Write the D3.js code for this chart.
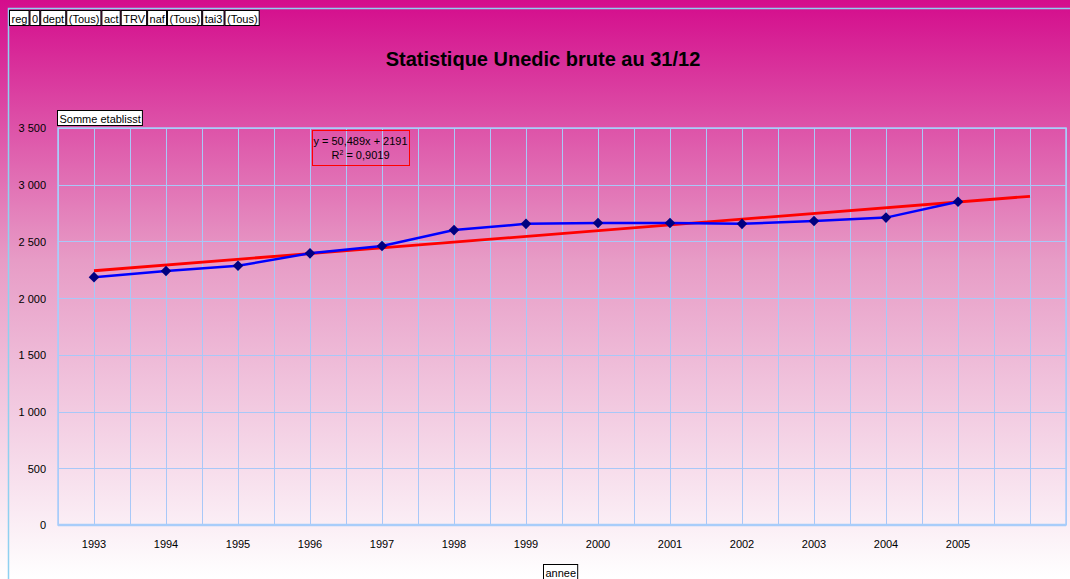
<!DOCTYPE html>
<meta charset="utf-8">
<html>
<head>
<style>
body { margin: 0; }
text { font-family: "Liberation Sans", Arial, sans-serif; }
.grid line { stroke: #a8c8f8; stroke-width: 1; shape-rendering: crispEdges; }
.axis text { font-size: 11px; fill: #000; }
.axis path, .axis line { display: none; }
</style>
<script src="https://d3js.org/d3.v7.min.js"></script>
</head>
<body>
<svg width="1070" height="579"></svg>
<script>
// data
var years = ["1993","1994","1995","1996","1997","1998","1999","2000","2001","2002","2003","2004","2005",""];
var etablissements = [2185, 2240, 2285, 2395, 2460, 2600, 2655, 2662, 2662, 2655, 2680, 2710, 2850];
var yTicks = [0, 500, 1000, 1500, 2000, 2500, 3000, 3500];
var trendSlope = 50.489, trendIntercept = 2191, trendR2 = "0,9019";
var fieldButtons = ["reg","0","dept","(Tous)","act","TRV","naf","(Tous)","tai3","(Tous)"];

var svg = d3.select("svg"),
    width = +svg.attr("width"),
    height = +svg.attr("height");

var defs = svg.append("defs");
var grad = defs.append("linearGradient")
    .attr("id", "bg").attr("x1", 0).attr("y1", 0).attr("x2", 0).attr("y2", 1);
grad.append("stop").attr("offset", "0%").attr("stop-color", "#d40c8c");
grad.append("stop").attr("offset", "45%").attr("stop-color", "#e79cc6");
grad.append("stop").attr("offset", "100%").attr("stop-color", "#ffffff");

svg.append("rect").attr("width", width).attr("height", height).attr("fill", "url(#bg)");
// outer chart border
svg.append("path")
    .attr("d", "M8.5," + height + "V8.5H" + width)
    .attr("fill", "none").attr("stroke", "#8fd0f0").attr("stroke-width", 1.5);

var margin = {left: 58, right: 4, top: 128, bottom: 54};
var x = d3.scaleBand().domain(d3.range(years.length)).range([margin.left, width - margin.right]);
var y = d3.scaleLinear().domain([0, 3500]).range([height - margin.bottom, margin.top]);
var cx = function(i) { return x(i) + x.bandwidth() / 2; };

// grid
var grid = svg.append("g").attr("class", "grid");
var vlines = [];
years.forEach(function(d, i) { vlines.push(x(i)); vlines.push(cx(i)); });
vlines.push(x.range()[1]);
grid.selectAll(".v").data(vlines).enter().append("line")
    .attr("x1", function(d) { return Math.round(d) + 0.5; })
    .attr("x2", function(d) { return Math.round(d) + 0.5; })
    .attr("y1", y(3500)).attr("y2", y(0));
grid.selectAll(".h").data(yTicks).enter().append("line")
    .attr("x1", x.range()[0]).attr("x2", x.range()[1])
    .attr("y1", function(d) { return Math.round(y(d)) + 0.5; })
    .attr("y2", function(d) { return Math.round(y(d)) + 0.5; });

svg.append("rect")
    .attr("x", x.range()[0]).attr("y", y(3500))
    .attr("width", x.range()[1] - x.range()[0]).attr("height", y(0) - y(3500))
    .attr("fill", "none").attr("stroke", "#a8cdfa").attr("stroke-width", 1.5);
svg.append("line")
    .attr("x1", x.range()[0]).attr("x2", x.range()[1])
    .attr("y1", y(0)).attr("y2", y(0))
    .attr("stroke", "#a8cdfa").attr("stroke-width", 2.5);

// axes
var fmt = function(d) { return d3.format(",")(d).replace(/,/g, " "); };
svg.append("g").attr("class", "axis")
    .attr("transform", "translate(" + (margin.left - 9) + ",0)")
    .call(d3.axisLeft(y).tickValues(yTicks).tickFormat(fmt).tickSize(0))
    .selectAll("text").attr("dy", "0.35em");
svg.append("g").attr("class", "axis")
    .attr("transform", "translate(0," + (y(0) + 12) + ")")
    .call(d3.axisBottom(x).tickFormat(function(i) { return years[i]; }).tickSize(0))
    .selectAll("text").attr("dy", "0.71em");

// trend line
var trend = [0, years.length - 1].map(function(i) { return [cx(i), y(trendSlope * (i + 1) + trendIntercept)]; });
svg.append("path").attr("d", d3.line()(trend))
    .attr("fill", "none").attr("stroke", "#ff0000").attr("stroke-width", 2.8);

// series
var line = d3.line().x(function(d, i) { return cx(i); }).y(function(d) { return y(d); });
svg.append("path").datum(etablissements).attr("d", line)
    .attr("fill", "none").attr("stroke", "#0000ff").attr("stroke-width", 2.5);
svg.selectAll(".pt").data(etablissements).enter().append("path")
    .attr("transform", function(d, i) { return "translate(" + cx(i) + "," + y(d) + ") rotate(45)"; })
    .attr("d", d3.symbol().type(d3.symbolSquare).size(56))
    .attr("fill", "#000080");

// trend label
var lab = svg.append("g").attr("transform", "translate(312.5,130.5)");
lab.append("rect").attr("width", 97).attr("height", 35)
    .attr("fill", "none").attr("stroke", "#ff0000");
var lt = lab.append("text").attr("text-anchor", "middle").attr("font-size", 11);
lt.append("tspan").attr("x", 48).attr("y", 14).text("y = 50,489x + 2191");
var t2 = lt.append("tspan").attr("x", 48).attr("y", 28);
t2.append("tspan").text("R");
t2.append("tspan").attr("font-size", 7).attr("dy", -4).text("2");
t2.append("tspan").attr("dy", 4).text(" = " + trendR2);

// title
svg.append("text").attr("x", 543).attr("y", 66).attr("text-anchor", "middle")
    .attr("font-size", 20).attr("font-weight", "bold").text("Statistique Unedic brute au 31/12");

// field buttons
function button(x0, y0, label) {
  var g = svg.append("g").attr("transform", "translate(" + x0 + "," + y0 + ")");
  var t = g.append("text").attr("x", 2).attr("y", 12).attr("font-size", 11).text(label);
  var w = t.node().getComputedTextLength() + 3.6;
  g.insert("rect", "text").attr("width", w).attr("height", 15)
      .attr("fill", "#fff").attr("stroke", "#000");
  return w;
}
var bx = 9.5;
fieldButtons.forEach(function(b) { bx += button(bx, 10.5, b) + 1; });
button(57.5, 110.5, "Somme etablisst");
button(543.5, 564.5, "annee");
</script>
</body>
</html>
